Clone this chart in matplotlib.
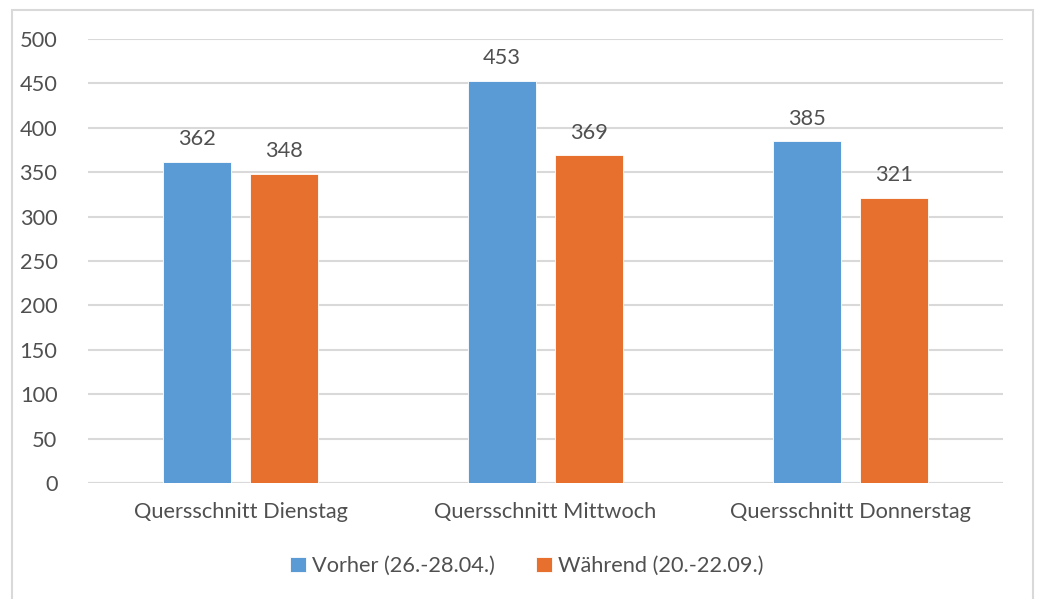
import numpy as np
import matplotlib.pyplot as plt
from matplotlib.patches import Rectangle

categories = ['Quersschnitt Dienstag', 'Quersschnitt Mittwoch', 'Quersschnitt Donnerstag']
vorher = [362, 453, 385]
waehrend = [348, 369, 321]
series_names = ['Vorher (26.-28.04.)', 'Während (20.-22.09.)']
yticks = [0, 50, 100, 150, 200, 250, 300, 350, 400, 450, 500]

plt.rcParams['font.family'] = ['Lato', 'DejaVu Sans']
txt = '#505050'
blue = '#5B9BD5'
orange = '#E8702F'
fs = 15.7

fig = plt.figure(figsize=(10.38, 5.99), dpi=100)
ax = fig.add_axes([88 / 1038, 1 - 483 / 599, 915 / 1038, 444 / 599])

# Rahmen um das Diagramm
fig.patches.append(Rectangle((11.5 / 1038, -0.01), 1021 / 1038, 1 - 9.5 / 599 + 0.01,
                             transform=fig.transFigure, fill=False,
                             edgecolor='#D9D9D9', linewidth=1.5))

x = np.arange(len(categories))
w = 0.224
off = 0.142
b1 = ax.bar(x - off, vorher, w, color=blue, edgecolor='white', linewidth=0.6,
            label=series_names[0], zorder=3)
b2 = ax.bar(x + off, waehrend, w, color=orange, edgecolor='white', linewidth=0.6,
            label=series_names[1], zorder=3)

for bars in (b1, b2):
    for r in bars:
        ax.annotate(str(int(r.get_height())), (r.get_x() + r.get_width() / 2, r.get_height()),
                    xytext=(0, 9), textcoords='offset points', ha='center', va='bottom',
                    fontsize=fs, color=txt)

ax.set_xlim(-0.5, 2.5)
ax.set_ylim(0, 500)
ax.set_yticks(yticks)
ax.set_xticks(x)
ax.set_xticklabels(categories)
ax.tick_params(axis='both', length=0, labelsize=fs, labelcolor=txt)
ax.tick_params(axis='y', pad=22)
ax.tick_params(axis='x', pad=14)
ax.grid(axis='y', color='#D9D9D9', linewidth=1.5, zorder=0)
for s in ax.spines.values():
    s.set_visible(False)
ax.axhline(0, color='#D9D9D9', linewidth=1.5, zorder=2)

leg = fig.legend(handles=[b1, b2], loc='center', bbox_to_anchor=(527 / 1038, 1 - 566 / 599),
                 ncol=2, frameon=False, fontsize=fs, handlelength=0.7, handleheight=0.7,
                 handletextpad=0.3, columnspacing=1.9)
for t in leg.get_texts():
    t.set_color(txt)

plt.savefig('out.png', dpi=100)
